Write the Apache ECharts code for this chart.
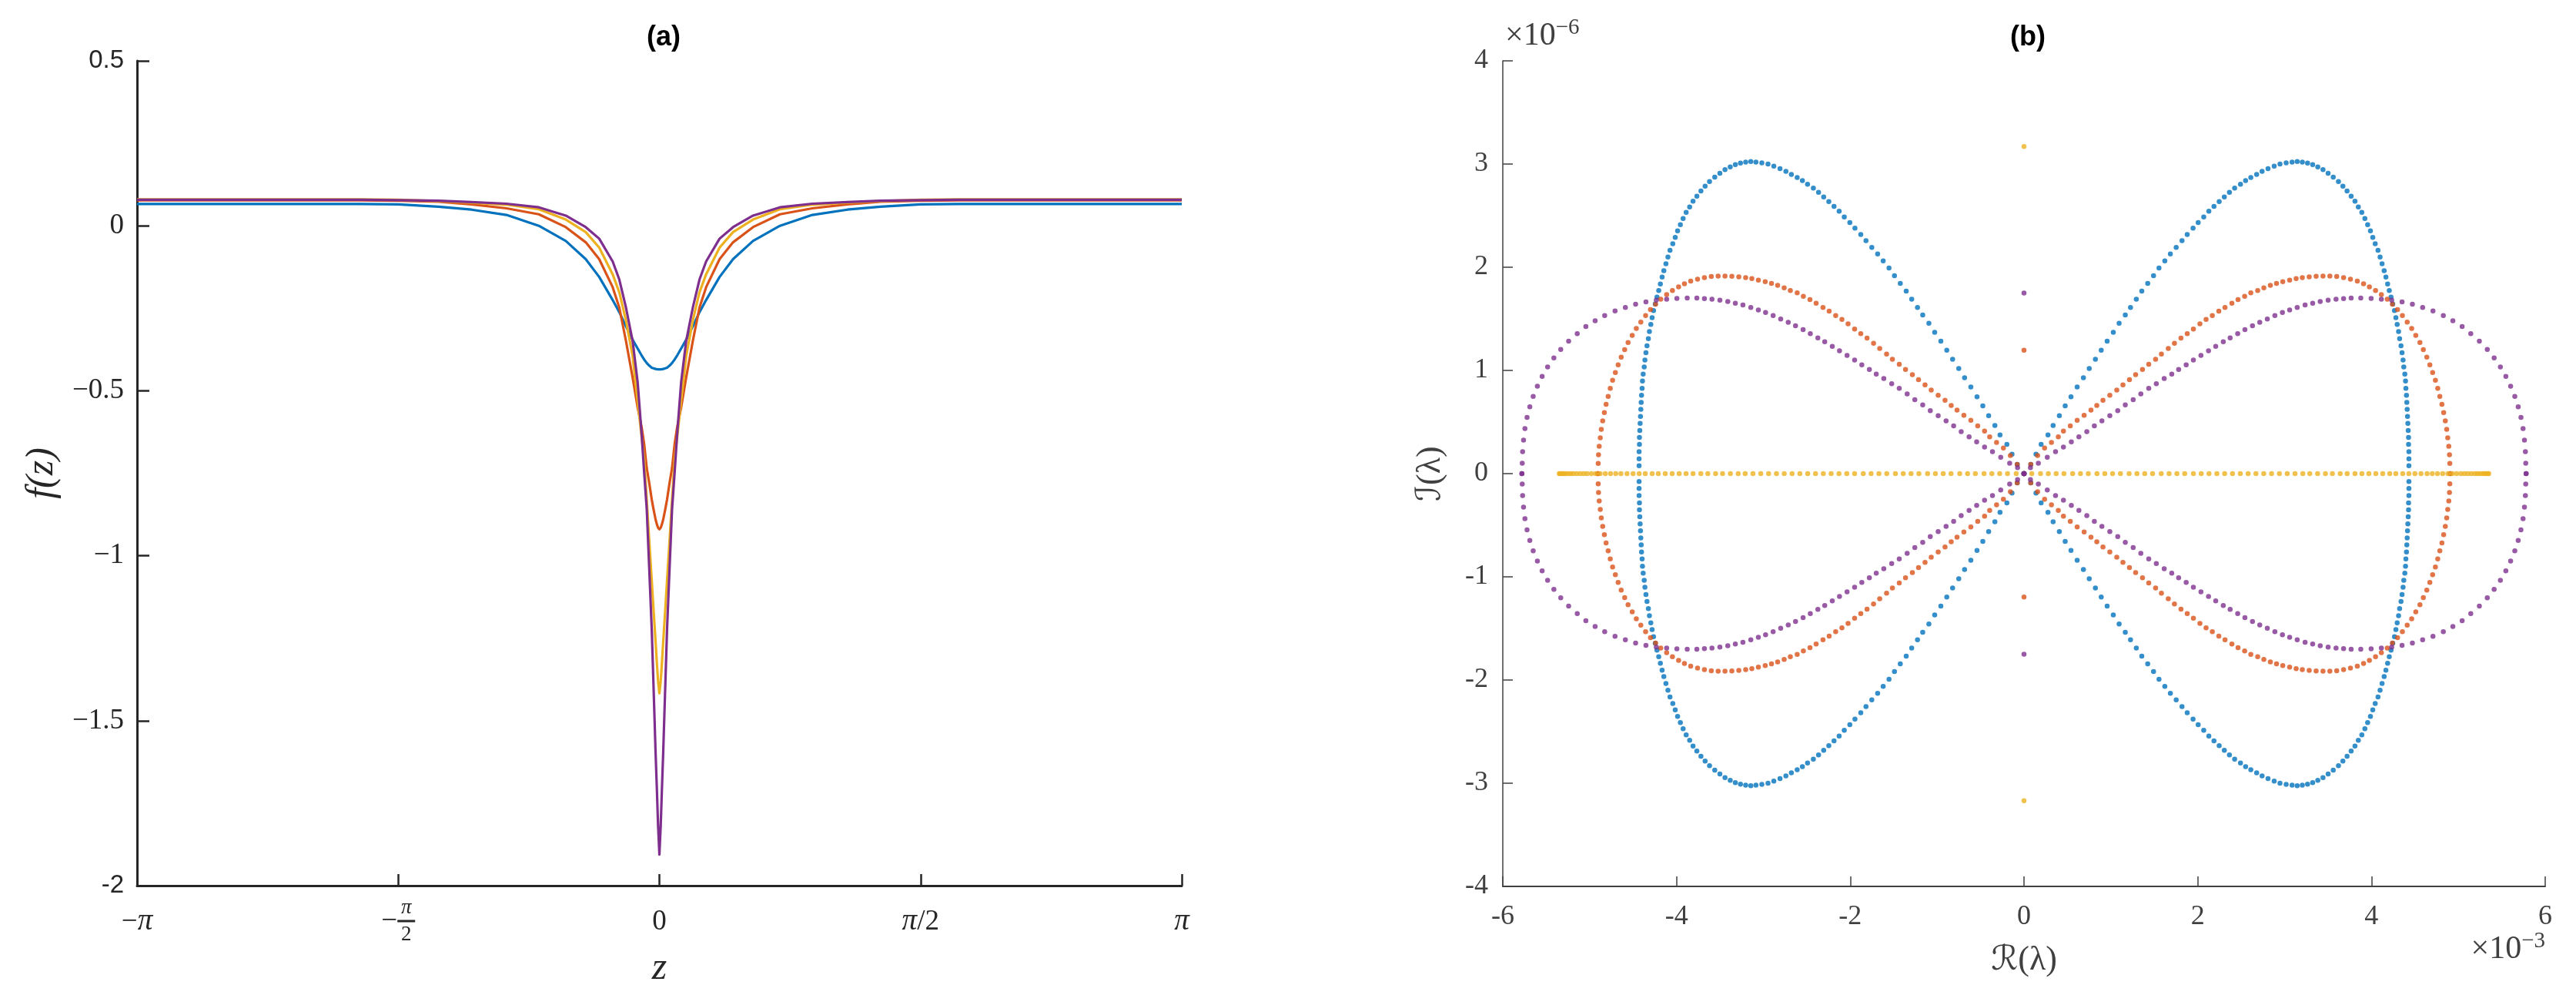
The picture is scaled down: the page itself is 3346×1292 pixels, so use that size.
<!DOCTYPE html>
<html>
<head>
<meta charset="utf-8">
<script src="https://cdn.jsdelivr.net/npm/echarts@6/dist/echarts.min.js"></script>
<style>
html,body{margin:0;padding:0;background:#ffffff;}
#chart{width:3346px;height:1292px;}
</style>
</head>
<body>
<div id="chart"></div>
<script>
// ---------- Panel (a): f(z) profiles ----------
const zValues = [-3.1416,-2.8,-2.4,-2.0,-1.8,-1.57,-1.33,-1.13,-0.92,-0.725,-0.563,-0.443,-0.362,-0.281,-0.241,-0.201,-0.161,-0.131,-0.107,-0.092,-0.076,-0.061,-0.046,-0.035,-0.023,-0.015,-0.008,0,
  0.008,0.015,0.023,0.035,0.046,0.061,0.076,0.092,0.107,0.131,0.161,0.201,0.241,0.281,0.362,0.443,0.563,0.725,0.92,1.13,1.33,1.57,1.8,2.0,2.4,2.8,3.1416];
const fBlue = [0.066,0.066,0.066,0.066,0.066,0.065,0.058,0.049,0.033,0.000,-0.046,-0.101,-0.155,-0.225,-0.262,-0.305,-0.345,-0.372,-0.393,-0.405,-0.416,-0.424,-0.430,-0.432,-0.434,-0.435,-0.435,-0.436,
  -0.435,-0.435,-0.434,-0.432,-0.430,-0.424,-0.416,-0.405,-0.393,-0.372,-0.345,-0.305,-0.262,-0.225,-0.155,-0.101,-0.046,0.000,0.033,0.049,0.058,0.065,0.066,0.066,0.066,0.066,0.066];
const fRed = [0.077,0.077,0.077,0.077,0.077,0.076,0.073,0.065,0.053,0.035,-0.004,-0.050,-0.101,-0.186,-0.248,-0.349,-0.460,-0.550,-0.610,-0.660,-0.735,-0.780,-0.830,-0.860,-0.890,-0.905,-0.915,-0.920,
  -0.915,-0.905,-0.890,-0.860,-0.830,-0.780,-0.735,-0.660,-0.610,-0.550,-0.460,-0.349,-0.248,-0.186,-0.101,-0.050,-0.004,0.035,0.053,0.065,0.073,0.076,0.077,0.077,0.077,0.077,0.077];
const fYellow = [0.080,0.080,0.080,0.080,0.080,0.079,0.075,0.070,0.064,0.050,0.019,-0.019,-0.066,-0.147,-0.202,-0.287,-0.395,-0.530,-0.640,-0.705,-0.830,-0.955,-1.076,-1.165,-1.260,-1.327,-1.380,-1.417,
  -1.380,-1.327,-1.260,-1.165,-1.076,-0.955,-0.830,-0.705,-0.640,-0.530,-0.395,-0.287,-0.202,-0.147,-0.066,-0.019,0.019,0.050,0.064,0.070,0.075,0.079,0.080,0.080,0.080,0.080,0.080];
const fPurple = [0.079,0.079,0.079,0.079,0.079,0.078,0.076,0.072,0.067,0.056,0.031,-0.004,-0.039,-0.108,-0.163,-0.248,-0.349,-0.473,-0.630,-0.745,-0.860,-1.040,-1.224,-1.400,-1.595,-1.710,-1.817,-1.906,
  -1.817,-1.710,-1.595,-1.400,-1.224,-1.040,-0.860,-0.745,-0.630,-0.473,-0.349,-0.248,-0.163,-0.108,-0.039,-0.004,0.031,0.056,0.067,0.072,0.076,0.078,0.079,0.079,0.079,0.079,0.079];

// ---------- Panel (b): eigenvalues, first-quadrant branches (units: 1e-3, 1e-6) ----------
const blueQX = [0,0.078,0.138,0.197,0.276,0.335,0.407,0.474,0.541,0.612,0.684,0.751,0.822,0.889,0.957,1.028,1.095,1.166,1.226,1.293,1.356,1.424,1.491,1.554,1.621,1.685,1.752,1.819,1.879,1.946,2.005,2.069,2.128,2.187,2.247,2.306,2.365,2.425,2.492,2.551,2.611,2.678,2.741,2.809,2.880,2.947,3.018,3.086,3.145,
  3.204,3.264,3.323,3.382,3.442,3.501,3.560,3.620,3.671,3.719,3.766,3.810,3.849,3.889,3.924,3.956,3.988,4.015,4.043,4.075,4.099,4.122,4.146,4.166,4.186,4.205,4.225,4.245,4.265,4.281,4.296,4.312,4.324,4.340,4.352,4.364,4.372,4.384,4.392,4.396,4.403,4.407,4.411,4.415,4.419,4.423,4.427,4.427,4.431,4.431,4.431];
const blueQY = [0,0.089,0.188,0.283,0.375,0.467,0.561,0.656,0.745,0.840,0.930,1.019,1.109,1.196,1.283,1.370,1.457,1.537,1.611,1.691,1.768,1.843,1.917,1.992,2.062,2.129,2.193,2.258,2.318,2.378,2.432,2.487,2.542,2.589,2.636,2.681,2.726,2.766,2.805,2.840,2.870,2.900,2.930,2.955,2.980,3.000,3.012,3.019,3.024,
  3.019,3.009,2.995,2.972,2.945,2.910,2.873,2.830,2.786,2.738,2.689,2.639,2.584,2.532,2.472,2.412,2.353,2.290,2.228,2.164,2.099,2.034,1.967,1.905,1.838,1.775,1.711,1.644,1.581,1.512,1.445,1.377,1.308,1.238,1.171,1.101,1.034,0.964,0.897,0.827,0.760,0.691,0.624,0.554,0.487,0.417,0.350,0.283,0.213,0.143,0.076];
const redQX = [0.078,0.157,0.237,0.316,0.395,0.454,0.533,0.612,0.692,0.771,0.838,0.909,0.988,1.068,1.139,1.214,1.285,1.364,1.436,1.515,1.582,1.661,1.732,1.807,1.879,1.950,2.025,2.096,2.168,2.243,2.314,2.393,2.464,2.540,2.611,2.690,2.761,2.836,2.907,2.979,3.058,
  3.133,3.204,3.283,3.363,3.442,3.521,3.600,3.679,3.758,3.837,3.909,3.976,4.047,4.114,4.182,4.241,4.300,4.356,4.411,4.463,4.510,4.558,4.597,4.637,4.672,4.704,4.736,4.763,4.787,4.811,4.831,4.850,4.866,4.878,4.890,4.898,4.902,4.906];
const redQY = [0.090,0.176,0.248,0.303,0.357,0.412,0.462,0.517,0.566,0.616,0.661,0.711,0.760,0.810,0.860,0.910,0.959,1.009,1.059,1.109,1.158,1.213,1.263,1.313,1.357,1.402,1.452,1.494,1.532,1.574,1.611,1.651,1.686,1.718,1.751,1.775,1.800,1.825,1.843,1.860,1.875,
  1.890,1.900,1.907,1.912,1.915,1.915,1.910,1.900,1.885,1.865,1.840,1.810,1.775,1.736,1.691,1.641,1.589,1.532,1.469,1.407,1.340,1.270,1.201,1.129,1.054,0.979,0.905,0.827,0.748,0.671,0.591,0.512,0.430,0.347,0.265,0.183,0.098,0];
const purpleQX = [0,0.074,0.165,0.268,0.363,0.454,0.545,0.632,0.723,0.810,0.897,0.988,1.079,1.166,1.257,1.345,1.436,1.523,1.614,1.701,1.780,1.867,1.950,2.037,2.124,2.207,2.294,2.373,2.460,2.543,2.630,2.714,2.801,2.888,2.975,3.058,3.145,3.236,3.323,3.410,3.501,3.592,
  3.679,3.766,3.877,3.996,4.114,4.233,4.352,4.471,4.589,4.708,4.827,4.937,5.044,5.143,5.242,5.333,5.412,5.484,5.547,5.602,5.650,5.689,5.721,5.745,5.761,5.772,5.776,5.780];
const purpleQY = [0,0.057,0.101,0.158,0.213,0.258,0.308,0.357,0.407,0.462,0.512,0.561,0.611,0.666,0.716,0.773,0.827,0.872,0.922,0.964,1.009,1.054,1.101,1.146,1.191,1.233,1.278,1.315,1.357,1.395,1.432,1.467,1.499,1.532,1.562,1.586,1.611,1.634,1.651,1.668,1.681,1.691,
  1.696,1.701,1.701,1.698,1.691,1.681,1.664,1.641,1.611,1.576,1.532,1.482,1.425,1.357,1.283,1.203,1.121,1.034,0.942,0.847,0.748,0.648,0.544,0.437,0.325,0.213,0.101,0];
const yellowQX = [0,0.09,0.19,0.28,0.37,0.46,0.56,0.65,0.74,0.84,0.93,1.02,1.11,1.21,1.30,1.39,1.48,1.58,1.67,1.76,1.85,1.95,2.04,2.13,2.22,2.31,2.40,2.49,2.58,2.67,2.76,2.85,2.94,3.03,3.12,3.21,3.29,3.38,3.47,3.55,3.64,3.72,3.81,3.89,3.97,4.05,
  4.13,4.21,4.28,4.36,4.43,4.50,4.57,4.64,4.70,4.76,4.82,4.88,4.93,4.98,5.03,5.07,5.11,5.15,5.19,5.22,5.25,5.28,5.30,5.32,5.34,5.35];
// isolated purely imaginary eigenvalues (x = 0)
const blueImag = [];
const redImag = [1.196];
const yellowImag = [3.17];
const purpleImag = [1.75];

// ---------- labels ----------
const panelTitles = ['(a)', '(b)'];
const colors = {blue:'#0072BD', red:'#D95319', yellow:'#EDB120', purple:'#7E2F8E'};

// symmetric spectrum (λ, -λ, conj λ, -conj λ) from first-quadrant readings
function spectrum(qx, qy, imag) {
  const out = [];
  const n = Math.min(qx.length, qy.length);
  for (let i = 0; i < n; i++) {
    const x = qx[i], y = qy[i];
    out.push([x, y], [-x, y], [x, -y], [-x, -y]);
  }
  imag.forEach(v => { out.push([0, v], [0, -v]); });
  return out;
}
function yellowSpectrum(qx, imag) {
  const out = [];
  qx.forEach(x => { out.push([x, 0], [-x, 0]); });
  imag.forEach(v => { out.push([0, v], [0, -v]); });
  return out;
}
function profile(f) { return zValues.map((z, i) => [z, f[i]]); }

const ink = '#262626';
const inkB = '#404040';
const serif = "'Liberation Serif', 'DejaVu Serif', serif";
const sans = "'Liberation Sans', Arial, sans-serif";

const chart = echarts.init(document.getElementById('chart'), null, {renderer: 'canvas'});
const HALF_PI = Math.PI / 2;

function lineSeries(name, f, color) {
  return {name: name, type: 'line', xAxisIndex: 0, yAxisIndex: 0, data: profile(f),
    showSymbol: false, symbol: 'none', smooth: false,
    color: color, lineStyle: {width: 3.2, color: color, join: 'round'}};
}
function scatterSeries(name, data, color) {
  return {name: name, type: 'scatter', xAxisIndex: 1, yAxisIndex: 1, data: data,
    symbolSize: 6.5, itemStyle: {color: color}};
}

const option = {
  animation: false,
  backgroundColor: '#ffffff',
  title: [
    {text: panelTitles[0], left: 857, top: 26, textAlign: 'center',
     textStyle: {fontFamily: sans, fontWeight: 'bold', fontSize: 36, color: '#000'}},
    {text: panelTitles[1], left: 2629, top: 26, textAlign: 'center',
     textStyle: {fontFamily: sans, fontWeight: 'bold', fontSize: 36, color: '#000'}}
  ],
  grid: [
    {left: 178, top: 79, width: 1357, height: 1071, containLabel: false, outerBoundsMode: 'none'},
    {left: 1952, top: 79, width: 1354, height: 1072, containLabel: false, outerBoundsMode: 'none'}
  ],
  xAxis: [
    {
      type: 'value', gridIndex: 0, min: -Math.PI, max: Math.PI, interval: HALF_PI,
      name: 'z', nameLocation: 'middle', nameGap: 100,
      nameTextStyle: {fontFamily: serif, fontStyle: 'italic', fontSize: 50, color: ink, verticalAlign: 'middle', align: 'center'},
      axisLine: {show: true, onZero: false, lineStyle: {color: ink, width: 3}},
      axisTick: {show: true, inside: true, length: 15, lineStyle: {color: ink, width: 2.5}},
      splitLine: {show: false},
      axisLabel: {
        margin: 47, verticalAlign: 'middle', color: ink,
        formatter: function (v) {
          const k = Math.round(v / HALF_PI);
          if (k === -2) return '{n|−}{p|π}';
          if (k === -1) return '{fp|π}\n{n|−}{bar| }\n{fd|2}';
          if (k === 0) return '{n|0}';
          if (k === 1) return '{p|π}{n|/2}';
          return '{p|π}';
        },
        rich: {
          n: {fontFamily: serif, fontSize: 37, color: ink, lineHeight: 12},
          p: {fontFamily: serif, fontStyle: 'italic', fontSize: 39, color: ink},
          fp: {fontFamily: serif, fontStyle: 'italic', fontSize: 27, color: ink, padding: [0, 0, 0, 21], lineHeight: 22},
          bar: {width: 23, height: 3, backgroundColor: ink, fontSize: 4, lineHeight: 12},
          fd: {fontFamily: serif, fontSize: 27, color: ink, padding: [0, 0, 0, 21], lineHeight: 24}
        }
      }
    },
    {
      type: 'value', gridIndex: 1, min: -6, max: 6, interval: 2,
      name: 'ℛ(λ)', nameLocation: 'middle', nameGap: 96,
      nameTextStyle: {fontFamily: "'Liberation Serif', 'DejaVu Serif', 'DejaVu Sans', serif", fontSize: 44, color: inkB, verticalAlign: 'middle', align: 'center'},
      axisLine: {show: true, onZero: false, lineStyle: {color: inkB, width: 2}},
      axisTick: {show: true, inside: true, length: 13, lineStyle: {color: inkB, width: 1.5}},
      splitLine: {show: false},
      axisLabel: {margin: 40, verticalAlign: 'middle', fontFamily: serif, fontSize: 36, color: inkB,
        formatter: v => String(v)}
    }
  ],
  yAxis: [
    {
      type: 'value', gridIndex: 0, min: -2, max: 0.5, interval: 0.5,
      name: 'f(z)', nameLocation: 'middle', nameGap: 123,
      nameTextStyle: {fontFamily: serif, fontStyle: 'italic', fontSize: 50, color: ink, verticalAlign: 'middle', align: 'center'},
      axisLine: {show: true, onZero: false, lineStyle: {color: ink, width: 3}},
      axisTick: {show: true, inside: true, length: 16, lineStyle: {color: ink, width: 2.5}},
      splitLine: {show: false},
      axisLabel: {
        margin: 17, color: ink,
        formatter: function (v) {
          if (Math.abs(v - 0.5) < 1e-9) return '{s|0.5}';
          if (Math.abs(v + 2) < 1e-9) return '{s|-2}';
          if (Math.abs(v) < 1e-9) return '{n|0}';
          return '{n|' + (v < 0 ? '−' : '') + String(Math.abs(v)) + '}';
        },
        rich: {
          n: {fontFamily: serif, fontSize: 37, color: ink},
          s: {fontFamily: sans, fontSize: 33, color: ink}
        }
      }
    },
    {
      type: 'value', gridIndex: 1, min: -4, max: 4, interval: 1,
      name: 'ℐ(λ)', nameLocation: 'middle', nameGap: 94,
      nameTextStyle: {fontFamily: "'Liberation Serif', 'DejaVu Serif', 'DejaVu Sans', serif", fontSize: 44, color: inkB, verticalAlign: 'middle', align: 'center'},
      axisLine: {show: true, onZero: false, lineStyle: {color: inkB, width: 1.5}},
      axisTick: {show: true, inside: true, length: 13, lineStyle: {color: inkB, width: 1.5}},
      splitLine: {show: false},
      axisLabel: {margin: 19, fontFamily: serif, fontSize: 36, color: inkB, formatter: v => String(v)}
    }
  ],
  graphic: [
    {type: 'text', left: 1955, top: 22, z: 100,
     style: {text: '{a|×10}{b|−6}', rich: {
       a: {fontFamily: serif, fontSize: 42, fill: inkB, verticalAlign: 'bottom', lineHeight: 46},
       b: {fontFamily: serif, fontSize: 29, fill: inkB, verticalAlign: 'top', lineHeight: 46}
     }}},
    {type: 'text', right: 40, top: 1208, z: 100,
     style: {text: '{a|×10}{b|−3}', rich: {
       a: {fontFamily: serif, fontSize: 42, fill: inkB, verticalAlign: 'bottom', lineHeight: 46},
       b: {fontFamily: serif, fontSize: 29, fill: inkB, verticalAlign: 'top', lineHeight: 46}
     }}}
  ],
  series: [
    lineSeries('blue', fBlue, colors.blue),
    lineSeries('red', fRed, colors.red),
    lineSeries('yellow', fYellow, colors.yellow),
    lineSeries('purple', fPurple, colors.purple),
    scatterSeries('blueEig', spectrum(blueQX, blueQY, blueImag), colors.blue),
    scatterSeries('redEig', spectrum(redQX, redQY, redImag), colors.red),
    scatterSeries('yellowEig', yellowSpectrum(yellowQX, yellowImag), colors.yellow),
    scatterSeries('purpleEig', spectrum(purpleQX, purpleQY, purpleImag), colors.purple)
  ]
};
chart.setOption(option);
</script>
</body>
</html>
